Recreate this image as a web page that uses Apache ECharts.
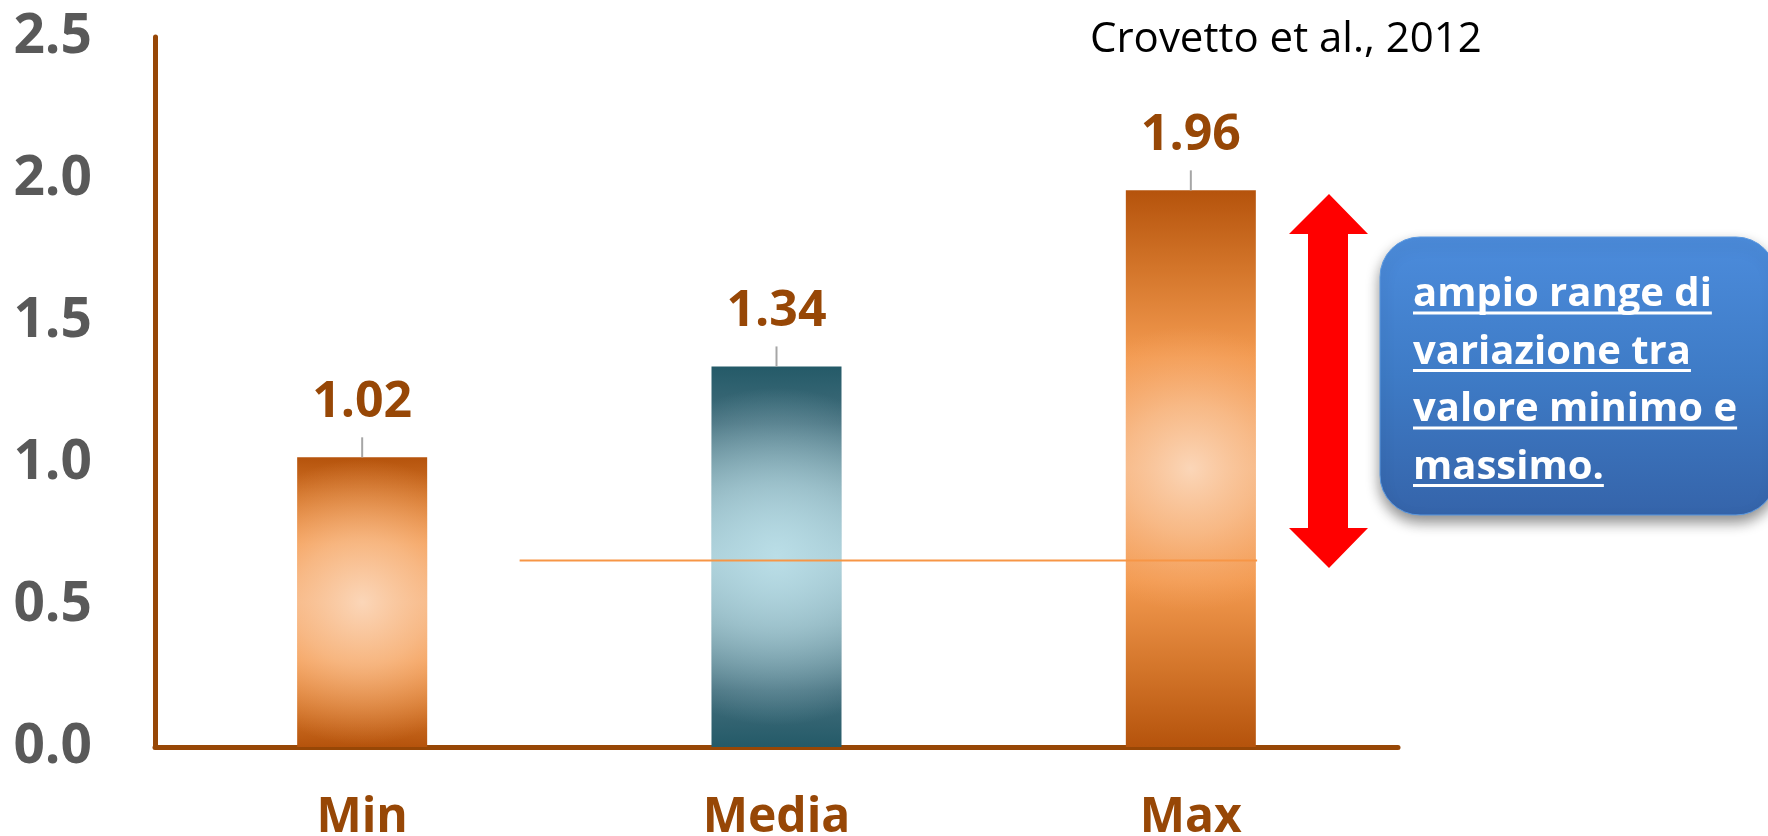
<!DOCTYPE html>
<html>
<head>
<meta charset="utf-8">
<script src="https://cdn.jsdelivr.net/npm/echarts@6/dist/echarts.min.js"></script>
<style>
html,body{margin:0;padding:0;background:#fff;}
#chart{width:1768px;height:836px;}
</style>
</head>
<body>
<div id="chart"></div>
<script>
// ---- data ----
const categories = ['Min', 'Media', 'Max'];
const values = [1.02, 1.34, 1.96];
const yTicks = [0, 0.5, 1.0, 1.5, 2.0, 2.5];
const refLineValue = [0.657];
const refLineSpan = [0.88, 2.66];   // in category units (hidden value axis 0..3)
const sourceText = 'Crovetto et al., 2012';
const noteLines = ['ampio range di', 'variazione tra', 'valore minimo e', 'massimo.'];

// ---- styles ----
const brown = '#974706';
const orangeGrad = new echarts.graphic.LinearGradient(0, 0, 0, 1, [
  {offset: 0, color: '#B5530C'},
  {offset: 0.14, color: '#D3752A'},
  {offset: 0.3, color: '#F39A50'},
  {offset: 0.5, color: '#F6B07A'},
  {offset: 0.7, color: '#F39A50'},
  {offset: 0.86, color: '#D3752A'},
  {offset: 1, color: '#B5530C'}
]);
const tealGrad = new echarts.graphic.LinearGradient(0, 0, 0, 1, [
  {offset: 0, color: '#245A68'},
  {offset: 0.15, color: '#436E7C'},
  {offset: 0.32, color: '#7AA0AA'},
  {offset: 0.5, color: '#A6CAD3'},
  {offset: 0.68, color: '#7AA0AA'},
  {offset: 0.85, color: '#436E7C'},
  {offset: 1, color: '#245A68'}
]);
const orangeGlow = new echarts.graphic.RadialGradient(0.5, 0.5, 1.1, [
  {offset: 0, color: 'rgba(251,214,184,1)'},
  {offset: 0.45, color: 'rgba(249,196,152,0.65)'},
  {offset: 1, color: 'rgba(246,170,110,0)'}
]);
const tealGlow = new echarts.graphic.RadialGradient(0.5, 0.5, 1.3, [
  {offset: 0, color: 'rgba(186,222,231,1)'},
  {offset: 0.45, color: 'rgba(178,214,224,0.6)'},
  {offset: 1, color: 'rgba(170,205,215,0)'}
]);
const barColors = [orangeGrad, tealGrad, orangeGrad];
const glowColors = [orangeGlow, tealGlow, orangeGlow];

const chart = echarts.init(document.getElementById('chart'), null, {renderer: 'canvas'});

// measure text for underlines
const ctx = document.createElement('canvas').getContext('2d');
const noteFont = 'bold 40px "Open Sans"';
ctx.font = noteFont;

const noteX = 1413;
const noteBase0 = 307;
const noteStep = 57.5;
const noteGraphics = [];
noteLines.forEach((t, i) => {
  const base = noteBase0 + i * noteStep;
  noteGraphics.push({
    type: 'text', z: 20,
    style: {text: t, x: noteX, y: base - 12, fill: '#fff', font: noteFont, verticalAlign: 'middle', align: 'left'}
  });
  const w = ctx.measureText(t).width;
  noteGraphics.push({
    type: 'line', z: 20,
    shape: {x1: noteX, y1: base + 6, x2: noteX + w, y2: base + 6},
    style: {stroke: '#fff', lineWidth: 3}
  });
});

const option = {
  animation: false,
  grid: {left: 155, right: 370, top: 37, bottom: 89, containLabel: false, outerBoundsMode: 'none'},
  xAxis: [{
    type: 'category',
    data: categories,
    axisLine: {show: true, lineStyle: {color: brown, width: 5}},
    axisTick: {show: false},
    axisLabel: {color: brown, fontSize: 48, fontWeight: 'bold', fontFamily: 'Open Sans', margin: 47}
  }, {
    type: 'value', min: 0, max: 3, show: false
  }],
  yAxis: {
    type: 'value', min: yTicks[0], max: yTicks[yTicks.length - 1], interval: 0.5,
    axisLine: {show: true, lineStyle: {color: brown, width: 5}},
    axisTick: {show: false},
    splitLine: {show: false},
    axisLabel: {
      color: '#595959', fontSize: 55, fontWeight: 'bold', fontFamily: 'Open Sans', margin: 63,
      formatter: v => v.toFixed(1)
    }
  },
  series: [{
    type: 'bar',
    data: values.map((v, i) => ({value: v, itemStyle: {color: barColors[i]}})),
    barWidth: 130,
    z: 2,
    label: {
      show: true, position: 'top', distance: 30,
      color: brown, fontSize: 50, fontWeight: 'bold', fontFamily: 'Open Sans',
      formatter: p => p.value.toFixed(2)
    }
  }, {
    type: 'bar',
    data: values.map((v, i) => ({value: v, itemStyle: {color: glowColors[i]}})),
    barWidth: 130,
    barGap: '-100%',
    z: 3,
    silent: true
  }, {
    type: 'custom',
    data: values.map((v, i) => [i, v]),
    z: 4,
    renderItem: (params, api) => {
      const p = api.coord([api.value(0), api.value(1)]);
      return {type: 'line', shape: {x1: p[0], y1: p[1], x2: p[0], y2: p[1] - 20},
        style: {stroke: '#A6A6A6', lineWidth: 2}};
    }
  }, {
    type: 'line',
    xAxisIndex: 1,
    data: refLineSpan.map(x => [x, refLineValue[0]]),
    symbol: 'none',
    z: 5,
    lineStyle: {color: '#F79646', width: 2},
    silent: true
  }],
  graphic: [
    {
      type: 'text', z: 20,
      style: {text: sourceText, x: 1090, y: 40, fill: '#000', font: '42px "Open Sans"', verticalAlign: 'middle'}
    },
    {
      type: 'polygon', z: 15,
      shape: {points: [[1329,194],[1368,234],[1348,234],[1348,528],[1368,528],[1329,568],[1289,528],[1308,528],[1308,234],[1289,234]]},
      style: {fill: '#FF0000'}
    },
    {
      type: 'rect', z: 15,
      shape: {x: 1380, y: 237, width: 396, height: 278, r: 40},
      style: {
        fill: new echarts.graphic.LinearGradient(0, 0, 0, 1, [
          {offset: 0, color: '#4C8CDC'},
          {offset: 0.5, color: '#3E7BC6'},
          {offset: 1, color: '#3564AA'}
        ]),
        stroke: '#5A98E0', lineWidth: 1,
        shadowBlur: 14, shadowOffsetY: 7, shadowColor: 'rgba(0,0,0,0.45)'
      }
    }
  ].concat(noteGraphics)
};
chart.setOption(option);
</script>
</body>
</html>
